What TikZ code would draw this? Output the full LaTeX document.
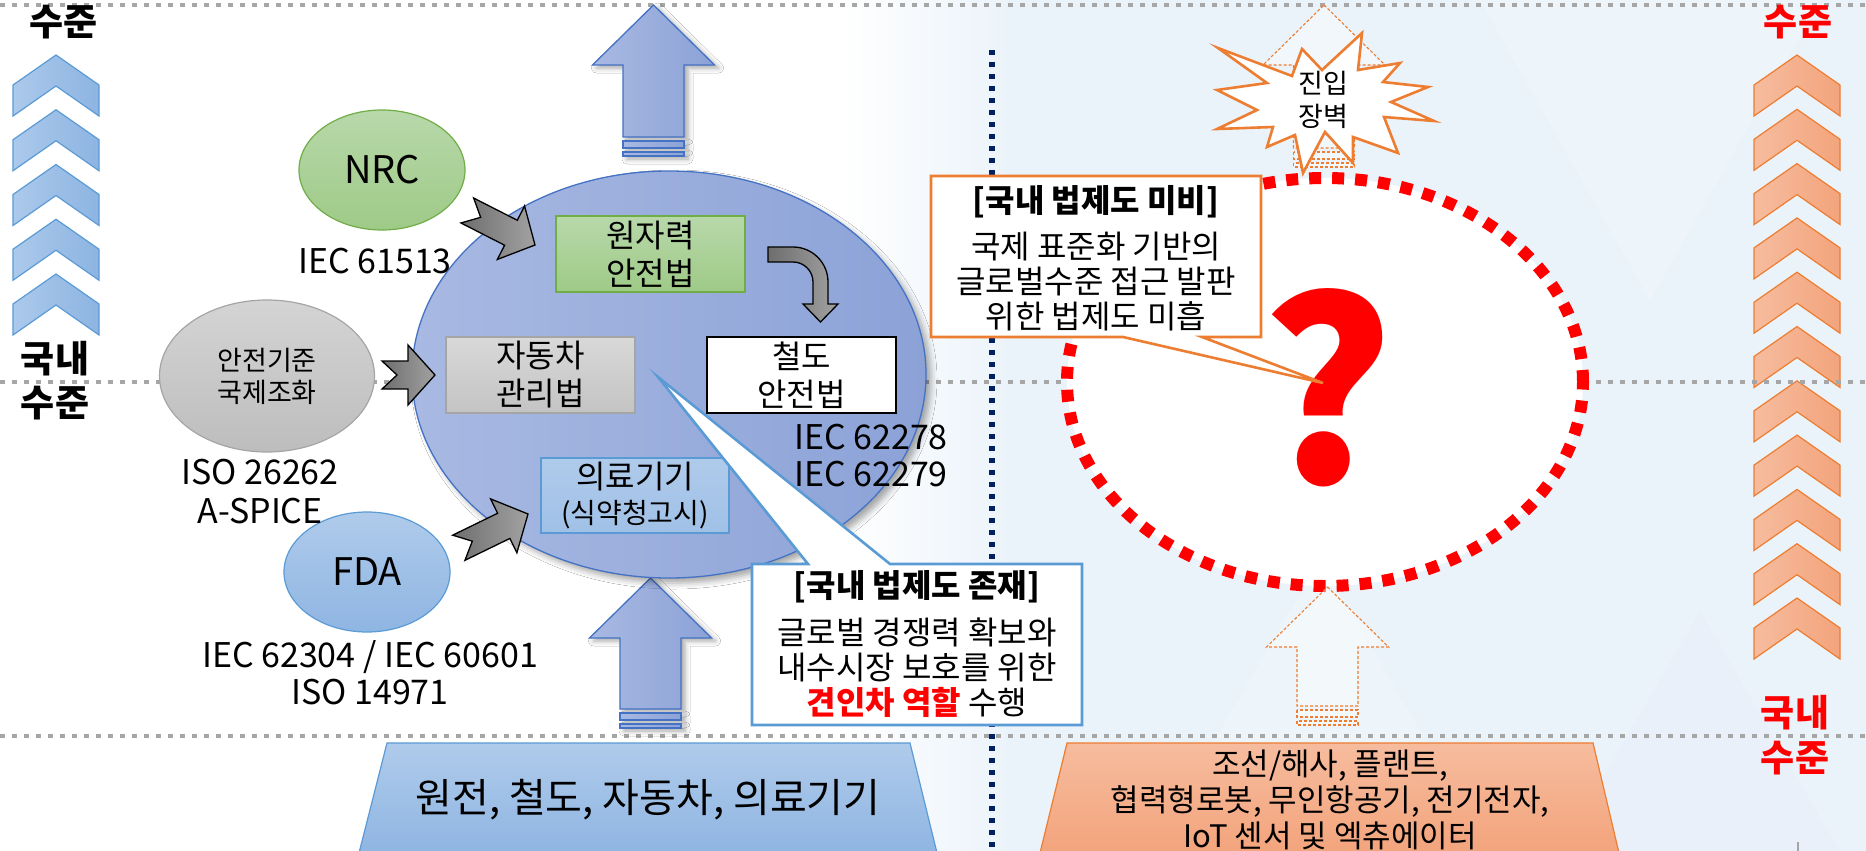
\documentclass[tikz,border=0pt]{standalone}
\usepackage{fontspec}
\setmainfont{Noto Sans CJK KR}
\usetikzlibrary{shapes.geometric,shadows.blur}
\definecolor{lgray}{HTML}{A6A6A6}
\definecolor{navy}{HTML}{002060}
\definecolor{cbL}{HTML}{ABC9EB}
\definecolor{cbR}{HTML}{8DB4E2}
\definecolor{cbD}{HTML}{5B9BD5}
\definecolor{coL}{HTML}{F6BC9E}
\definecolor{coR}{HTML}{F3A47C}
\definecolor{coD}{HTML}{ED7D31}
\definecolor{lawL}{HTML}{A8B9E2}
\definecolor{lawR}{HTML}{8CA2D7}
\definecolor{lawD}{HTML}{4472C4}
\definecolor{grT}{HTML}{B8D8AA}
\definecolor{grB}{HTML}{9ECA87}
\definecolor{grD}{HTML}{70AD47}
\definecolor{gyT}{HTML}{D4D4D4}
\definecolor{gyB}{HTML}{BDBDBD}
\definecolor{gyD}{HTML}{A5A5A5}
\definecolor{blT}{HTML}{AFCBEB}
\definecolor{blB}{HTML}{8FB5E2}
\definecolor{gaL}{HTML}{6E6E6E}
\definecolor{gaR}{HTML}{A2A2A2}
\definecolor{bgc}{HTML}{EBF3FA}
\newcommand\fsz[2]{\fontsize{#1}{#2}\selectfont}
\newcommand\chev[3]{\path[#3] (#1,#2) -- (#1+43,#2+30) -- (#1+43,#2+61) -- (#1,#2+31) -- (#1-43,#2+61) -- (#1-43,#2+30) -- cycle;}
\newcommand\blockup[4]{%
  \path[#4] (#1,#2) -- (#1+61,#2+60) -- (#1+30.5,#2+60) -- (#1+30.5,#3) -- (#1-30.5,#3) -- (#1-30.5,#2+60) -- (#1-61,#2+60) -- cycle;
  \path[#4] (#1-30.5,#3+4) rectangle (#1+30.5,#3+11);
  \path[#4] (#1-30.5,#3+15) rectangle (#1+30.5,#3+19);}
\newcommand\notcharrow[4]{%
  \draw[garrow, shift={(#1,#2)}, rotate=#3] (0,0) -- (-27,-30) -- (-27,-14) -- (-#4,-14) -- (-#4+15,0) -- (-#4,14) -- (-27,14) -- (-27,30) -- cycle;}
\tikzset{
  dotline/.style={draw=lgray, line width=4.5pt, dash pattern=on 4.5pt off 7.5pt},
  navyline/.style={draw=navy, line width=6pt, dash pattern=on 5pt off 7pt},
  chevB/.style={draw=cbD, line width=1.2pt, left color=cbL, right color=cbR},
  chevO/.style={draw=coD, line width=1.2pt, left color=coL, right color=coR},
  garrow/.style={draw=black, line width=1.3pt, left color=gaL, right color=gaR},
  bluearrow/.style={draw=lawD, line width=1.3pt, left color=lawL, right color=lawR,
    blur shadow={shadow xshift=4pt, shadow yshift=-3pt, shadow opacity=35, shadow blur radius=5pt}},
  orarrow/.style={draw=coD, line width=1.1pt, dash pattern=on 3pt off 2pt, fill=white, fill opacity=0.35},
  txt/.style={align=center, inner sep=0pt},
  lvl/.style={align=center, inner sep=0pt, font={\bfseries\fsz{37}{40}}},
  lawbox/.style={rectangle, minimum width=189pt, minimum height=76pt, inner sep=0pt, align=center, font={\fsz{32}{38}}},
  oval/.style={ellipse, inner sep=0pt, align=center, minimum width=166pt, minimum height=120pt},
}
\begin{document}
\begin{tikzpicture}[x=1pt,y=-1pt]
\useasboundingbox (0,0) rectangle (1866,851);
% background
\fill[white] (0,0) rectangle (1866,851);
\shade[left color=white, right color=bgc] (840,0) rectangle (1010,851);
\fill[bgc] (1009,0) rectangle (1866,851);
\fill[white, opacity=0.18] (1150,851) -- (1320,560) -- (1490,851) -- cycle;
\fill[white, opacity=0.18] (1480,0) -- (1650,300) -- (1820,0) -- cycle;
\fill[blue!10, opacity=0.15] (1560,851) -- (1700,610) -- (1840,851) -- cycle;

% right chevrons (under the dotted lines)
\foreach \i in {0,...,10}{\pgfmathsetmacro\ay{55+54.3*\i}\chev{1797}{\ay}{chevO}}

% gray dotted level lines
\draw[dotline] (0,5) -- (1866,5);
\draw[dotline] (0,382) -- (1866,382);
\draw[dotline] (0,736) -- (1866,736);
% navy divider
\draw[navyline] (992,50) -- (992,851);

% left chevrons
\foreach \i in {0,...,4}{\pgfmathsetmacro\ay{55+54.75*\i}\chev{56}{\ay}{chevB}}

% level texts
\node[lvl] (tlLevel) at (64,22) {수준};
\node[lvl] (lDom) at (55,359) {국내};
\node[lvl] (lLevel) at (55,403) {수준};
\node[lvl, text=red] (trLevel) at (1798,22) {수준};
\node[lvl, text=red] (rDom) at (1795,713) {국내};
\node[lvl, text=red] (rLevel) at (1795,758) {수준};
\draw[gyD, line width=2pt] (1798,842) -- (1798,851);

% blue arrows
\blockup{653.5}{5}{137}{bluearrow}
\blockup{650.5}{578}{709}{bluearrow}

% big law ellipse
\node[ellipse, draw=lawD, line width=1.3pt, left color=lawL, right color=lawR,
  minimum width=514pt, minimum height=407pt, inner sep=0pt,
  blur shadow={shadow xshift=5pt, shadow yshift=-5pt, shadow opacity=35, shadow blur radius=6pt}] (law) at (669,374.5) {};

% source ovals
\node[oval, draw=grD, line width=1.2pt, top color=grT, bottom color=grB, font={\fsz{38}{40}}] (nrc) at (382,170) {NRC};
\node[oval, draw=gyD, line width=1.2pt, top color=gyT, bottom color=gyB, minimum width=215pt, minimum height=152pt, font={\fsz{27}{32}}] (harm) at (267,376) {안전기준\\국제조화};
\node[oval, draw=cbD, line width=1.2pt, top color=blT, bottom color=blB, font={\fsz{38}{40}}] (fda) at (367,572) {FDA};
\node[txt, font={\fsz{34}{37}}] (iec61513) at (375,261) {IEC 61513};
\node[txt, font={\fsz{34}{39}}] (iso26262) at (260,492) {ISO 26262\\A-SPICE};
\node[txt, font={\fsz{34}{37}}] (iec62304) at (370,673) {IEC 62304 / IEC 60601\\ISO 14971};

% law boxes
\node[lawbox, draw=grD, line width=1.2pt, top color=grT, bottom color=grB] (nuc) at (650.5,254) {원자력\\안전법};
\node[lawbox, draw=gyD, line width=1.2pt, top color=gyT!90!white, bottom color=gyB!90!white] (car) at (540.5,375) {자동차\\관리법};
\node[lawbox, draw=black, line width=2.6pt, fill=white] (rail) at (801.5,375) {철도\\안전법};
\node[lawbox, draw=cbD, line width=1.2pt, top color=blT, bottom color=blB!85!white, minimum width=188pt, minimum height=75pt] (med) at (635,495.5) {의료기기\\[-3pt]{\fsz{28}{30}(식약청고시)}};
\node[txt, font={\fsz{34}{37}}] (iec62278) at (871,455.5) {IEC 62278\\IEC 62279};

% gray notched arrows
\notcharrow{535}{245}{-27}{76}
\notcharrow{435}{375}{0}{53}
\notcharrow{528}{514}{26}{77}
% bent arrow nuclear -> rail
\draw[garrow] (768,247) -- (793,247) arc[start angle=-90, end angle=0, radius=35] -- (828,304) -- (838,304) -- (820.5,322) -- (803,304) -- (813,304) -- (813,282) arc[start angle=0, end angle=-90, radius=20] -- (768,262) -- cycle;

% bottom trapezoids
\draw[draw=cbD, line width=1.2pt, top color=blT, bottom color=blB] (387,743) -- (910,743) -- (937,853) -- (359,853) -- cycle;
\node[txt, font={\fsz{40}{42}}] (indA) at (648,800) {원전, 철도, 자동차, 의료기기};
\draw[draw=coD, line width=1.2pt, top color=coL, bottom color=coR] (1067,743) -- (1593,743) -- (1619,853) -- (1040,853) -- cycle;
\node[txt, font={\fsz{31}{36}}] (indB) at (1330,800) {조선/해사, 플랜트,\\협력형로봇, 무인항공기, 전기전자,\\IoT 센서 및 엑츄에이터};

% right side: red dotted circle and question mark
\node[ellipse, draw=red, line width=12pt, dash pattern=on 12pt off 11pt, fill=white,
  minimum width=516pt, minimum height=408pt, inner sep=0pt] (gap) at (1325,382) {};
\node[txt, font={\bfseries\fsz{250}{250}}, text=red] (qm) at (1327,387.5) {?};

% orange dashed arrows
\blockup{1327.5}{587}{706}{orarrow}
\blockup{1324}{5}{148}{orarrow}

% barrier starburst
\draw[draw=coD, line width=2.6pt, fill=white, line join=miter]
  (1218,48) -- (1292,76) -- (1302,49) -- (1322,70) -- (1362,33) -- (1358,70) -- (1400,63) -- (1383,82)
  -- (1428,87) -- (1391,102) -- (1434,121) -- (1384,117) -- (1398,153) -- (1353,137) -- (1353,163)
  -- (1325,132) -- (1303,173) -- (1295,135) -- (1267,147) -- (1273,127) -- (1217,129) -- (1257,110)
  -- (1217,90) -- (1267,83) -- cycle;
\node[txt, font={\fsz{27}{33}}] (barrier) at (1323,100) {진입\\장벽};

% callout: domestic law exists
\coordinate (ptrA) at (658,377);
\draw[draw=cbD, line width=2.6pt, fill=white, line join=miter] (752,564) -- (808,564) -- (ptrA) -- (890,564) -- (1082,564) -- (1082,725) -- (752,725) -- cycle;
\node[txt, font={\bfseries\fsz{32}{35}}] (calloutAt) at (917,587) {[국내 법제도 존재]};
\node[txt, font={\fsz{32}{35}}] (calloutAb) at (917,668) {글로벌 경쟁력 확보와\\내수시장 보호를 위한\\{\color{red}\bfseries 견인차 역할} 수행};

% callout: domestic law lacking
\coordinate (ptrB) at (1323,383);
\draw[draw=coD, line width=2.6pt, fill=white, line join=miter] (931,176) -- (1261,176) -- (1261,337) -- (1202,337) -- (ptrB) -- (1123,337) -- (931,337) -- cycle;
\node[txt, font={\bfseries\fsz{32}{35}}] (calloutBt) at (1096,202) {[국내 법제도 미비]};
\node[txt, font={\fsz{32}{35}}] (calloutBb) at (1096,282) {국제 표준화 기반의\\글로벌수준 접근 발판\\위한 법제도 미흡};
\end{tikzpicture}
\end{document}
